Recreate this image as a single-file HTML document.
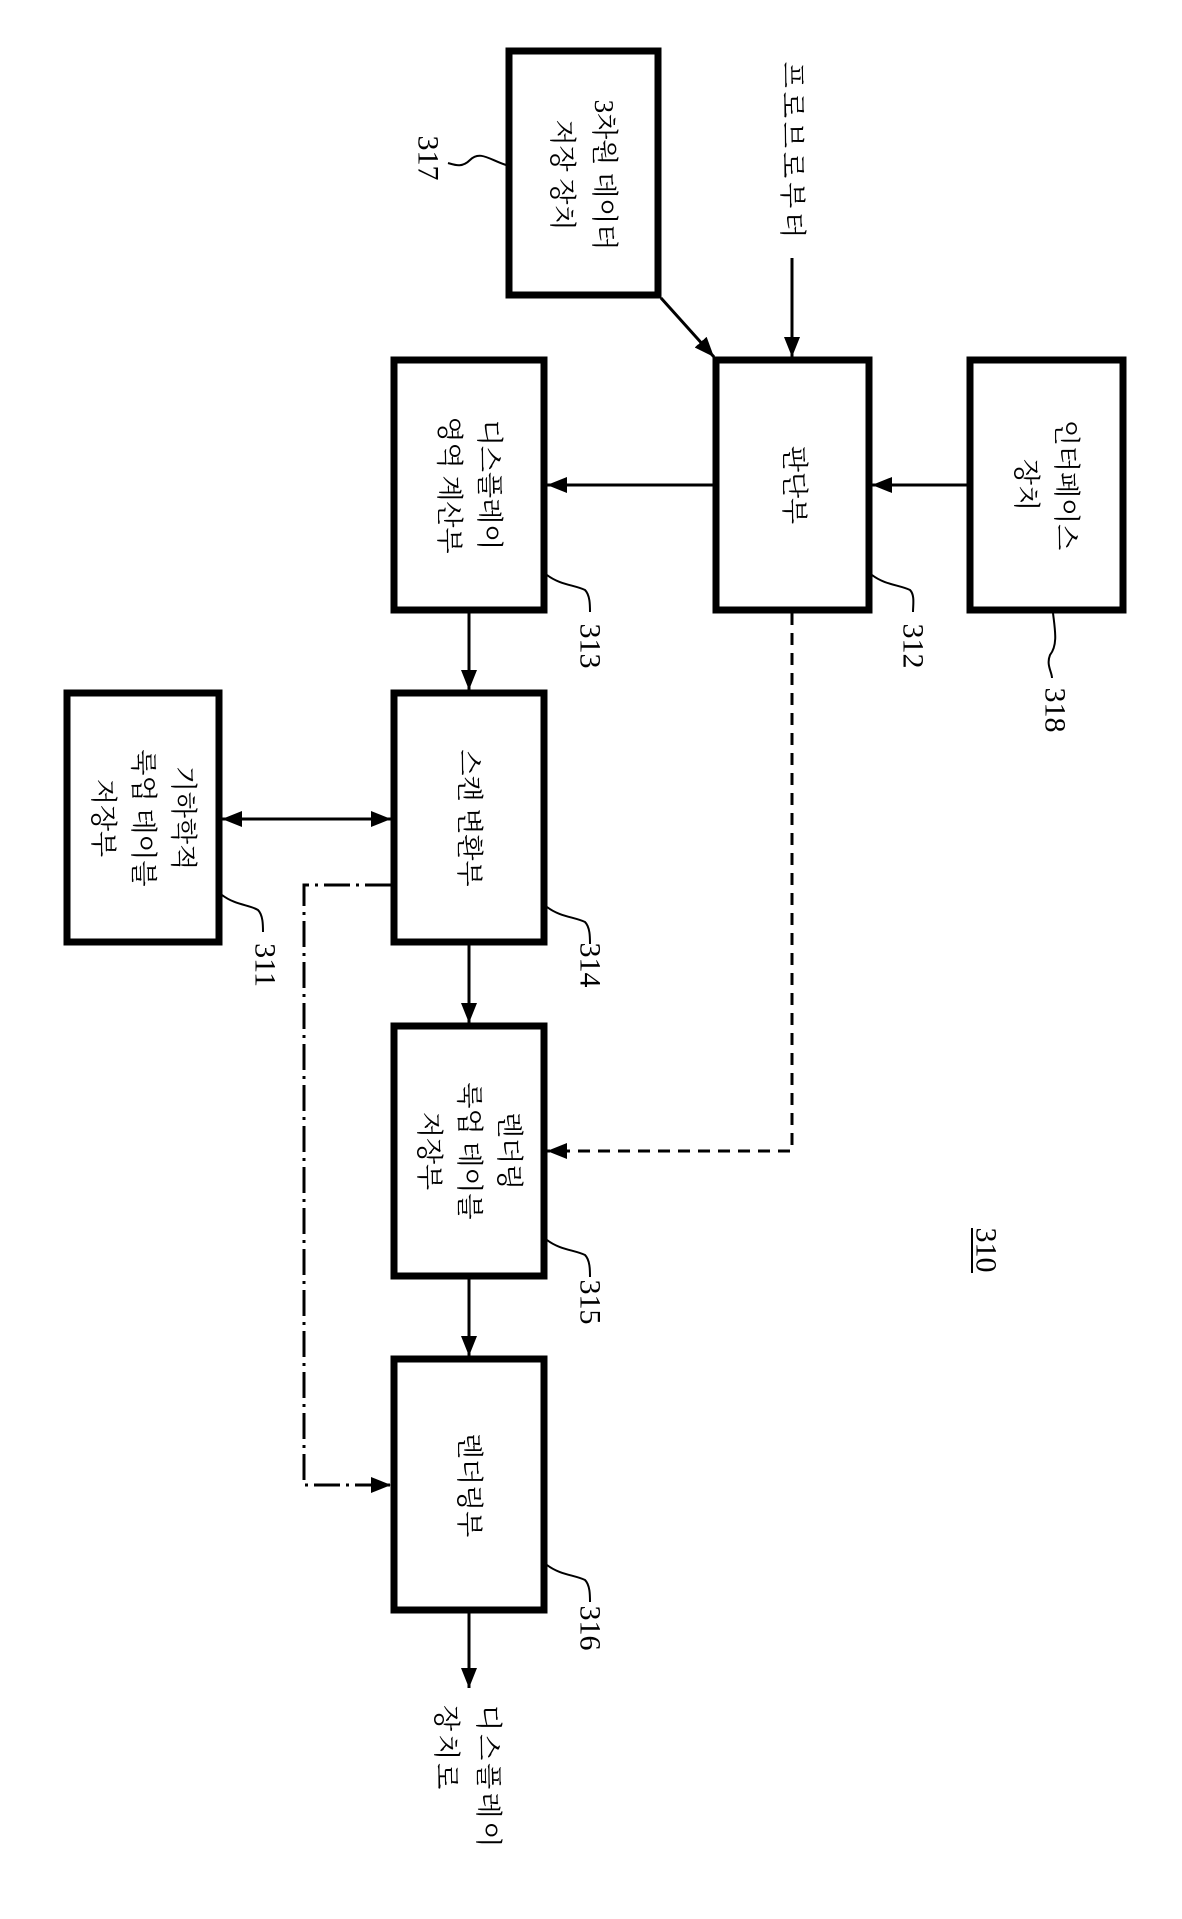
<!DOCTYPE html>
<html><head><meta charset="utf-8"><style>
html,body{margin:0;padding:0;background:#fff;}
svg{display:block;}
text{font-family:"Liberation Serif","Noto Serif CJK KR","Noto Serif CJK SC",serif;fill:#000;}
</style></head><body>
<svg width="1182" height="1919" viewBox="0 0 1182 1919" xmlns="http://www.w3.org/2000/svg">
<defs>
<marker id="ah" viewBox="0 0 20 16" refX="20" refY="8" markerWidth="20" markerHeight="16" markerUnits="userSpaceOnUse" orient="auto"><path d="M0,0 L20,8 L0,16 z" fill="#000"/></marker>
<marker id="as" viewBox="0 0 20 16" refX="0" refY="8" markerWidth="20" markerHeight="16" markerUnits="userSpaceOnUse" orient="auto"><path d="M20,0 L0,8 L20,16 z" fill="#000"/></marker>
</defs>
<g fill="none" stroke="#000" stroke-width="7">
<rect x="509" y="51" width="149" height="244"/>
<rect x="716" y="360" width="153" height="250"/>
<rect x="970" y="360" width="153" height="250"/>
<rect x="394" y="360" width="150" height="250"/>
<rect x="394" y="693" width="150" height="249"/>
<rect x="67" y="693" width="152" height="249"/>
<rect x="394" y="1026" width="150" height="250"/>
<rect x="394" y="1359" width="150" height="251"/>
</g>
<g fill="none" stroke="#000" stroke-width="3">
<line x1="661" y1="298" x2="714" y2="357" marker-end="url(#ah)"/>
<line x1="792" y1="258" x2="792" y2="357" marker-end="url(#ah)"/>
<line x1="967" y1="485" x2="872" y2="485" marker-end="url(#ah)"/>
<line x1="713" y1="485" x2="547" y2="485" marker-end="url(#ah)"/>
<line x1="469" y1="613" x2="469" y2="690" marker-end="url(#ah)"/>
<line x1="222" y1="819" x2="391" y2="819" marker-end="url(#ah)" marker-start="url(#as)"/>
<line x1="469" y1="945" x2="469" y2="1023" marker-end="url(#ah)"/>
<line x1="469" y1="1279" x2="469" y2="1356" marker-end="url(#ah)"/>
<line x1="469" y1="1613" x2="469" y2="1688" marker-end="url(#ah)"/>
<polyline points="792,613 792,1151 547,1151" stroke-dasharray="12,8" marker-end="url(#ah)"/>
<polyline points="391,885 304,885 304,1485 391,1485" stroke-dasharray="26,6,3,6" marker-end="url(#ah)"/>
</g>
<g fill="none" stroke="#000" stroke-width="2">
<path d="M506,165 C490,160 480,150 470,160 C462,168 455,165 448,163"/>
<path d="M872,575 C885,585 900,585 910,590 C915,595 913,605 913,612"/>
<path d="M547,575 C560,585 575,585 585,590 C590,595 590,605 590,612"/>
<path d="M547,907 C560,917 575,917 585,922 C590,927 590,937 590,944"/>
<path d="M547,1240 C560,1250 575,1250 585,1255 C590,1260 590,1270 590,1277"/>
<path d="M547,1565 C560,1575 575,1575 585,1580 C590,1585 590,1595 590,1602"/>
<path d="M222,895 C235,905 250,905 258,910 C263,915 263,925 263,932"/>
<path d="M1053,613 C1055,630 1058,645 1050,655 C1046,665 1052,672 1052,678"/>
<line x1="972" y1="1228" x2="972" y2="1273"/>
</g>
<g font-size="27" text-anchor="middle" dominant-baseline="central">
<g transform="translate(584,175) rotate(90)"><text x="0" y="-20">3차원 데이터</text><text x="0" y="22">저장 장치</text></g>
<g transform="translate(792,152) rotate(90)"><text x="0" y="0" letter-spacing="4">프로브로부터</text></g>
<g transform="translate(794,485) rotate(90)"><text x="0" y="0">판단부</text></g>
<g transform="translate(1046,485) rotate(90)"><text x="0" y="-20">인터페이스</text><text x="0" y="20">장치</text></g>
<g transform="translate(469,485) rotate(90)"><text x="0" y="-20">디스플레이</text><text x="0" y="20">영역 계산부</text></g>
<g transform="translate(469,818) rotate(90)"><text x="0" y="0">스캔 변환부</text></g>
<g transform="translate(143,818) rotate(90)"><text x="0" y="-40">기하학적</text><text x="0" y="0">룩업 테이블</text><text x="0" y="40">저장부</text></g>
<g transform="translate(469,1151) rotate(90)"><text x="0" y="-40">렌더링</text><text x="0" y="0">룩업 테이블</text><text x="0" y="40">저장부</text></g>
<g transform="translate(469,1485) rotate(90)"><text x="0" y="0">렌더링부</text></g>
<g transform="translate(467,1705) rotate(90)"><text x="0" y="-21" text-anchor="start" letter-spacing="3">디스플레이</text><text x="0" y="21" text-anchor="start" letter-spacing="3">장치로</text></g>
</g>
<g font-size="30" text-anchor="middle" dominant-baseline="central">
<text transform="translate(428,158) rotate(90)">317</text>
<text transform="translate(913,646) rotate(90)">312</text>
<text transform="translate(590,646) rotate(90)">313</text>
<text transform="translate(1055,710) rotate(90)">318</text>
<text transform="translate(590,965) rotate(90)">314</text>
<text transform="translate(265,965) rotate(90)">311</text>
<text transform="translate(590,1302) rotate(90)">315</text>
<text transform="translate(590,1628) rotate(90)">316</text>
<text transform="translate(986,1250) rotate(90)">310</text>
</g>
</svg>
</body></html>
